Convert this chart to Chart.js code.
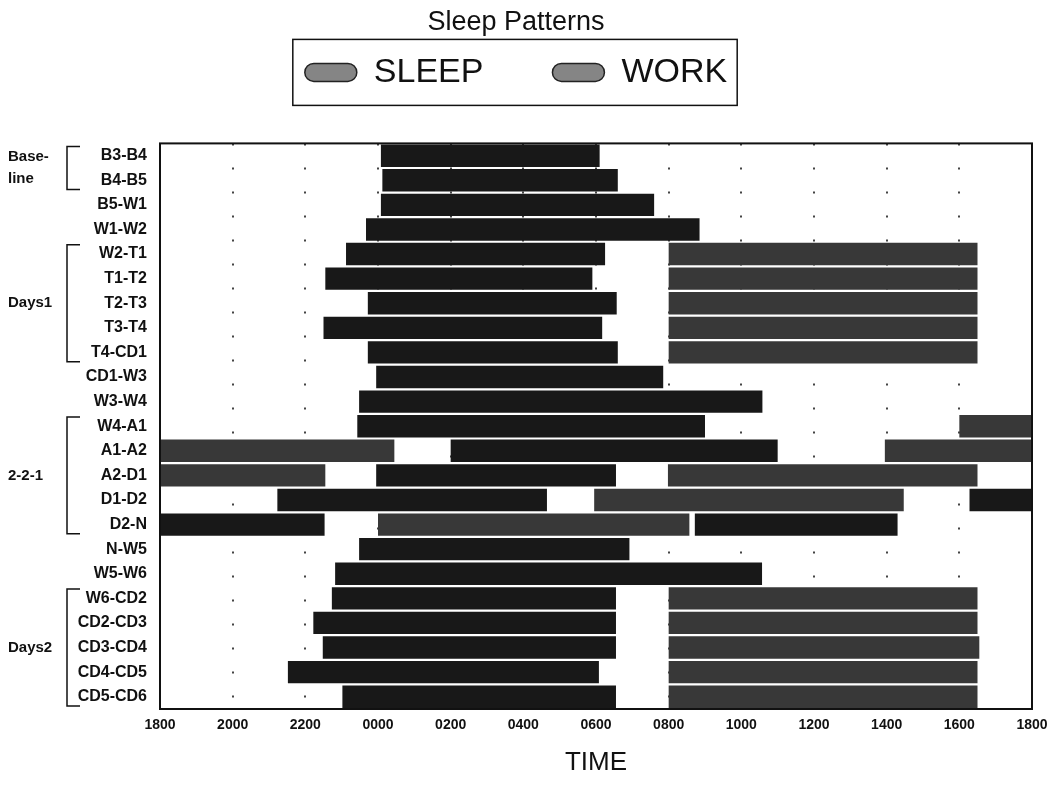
<!DOCTYPE html>
<html>
<head>
<meta charset="utf-8">
<title>Sleep Patterns</title>
<script src="https://cdn.jsdelivr.net/npm/chart.js@4.4.1/dist/chart.umd.min.js"></script>
<style>
  html, body { margin: 0; padding: 0; background: #fff; overflow: hidden; }
  #wrap { width: 1054px; height: 786px; }
</style>
</head>
<body>
<div id="wrap"><canvas id="sleep-chart"></canvas></div>
<script>
// rows, top to bottom
const rowLabels = [
  'B3-B4', 'B4-B5', 'B5-W1', 'W1-W2', 'W2-T1', 'T1-T2', 'T2-T3', 'T3-T4',
  'T4-CD1', 'CD1-W3', 'W3-W4', 'W4-A1', 'A1-A2', 'A2-D1', 'D1-D2', 'D2-N',
  'N-W5', 'W5-W6', 'W6-CD2', 'CD2-CD3', 'CD3-CD4', 'CD4-CD5', 'CD5-CD6',
];

// x runs in hours from 18 (1800) to 42 (1800 next day)
const timeTicks = ['1800', '2000', '2200', '0000', '0200', '0400', '0600',
  '0800', '1000', '1200', '1400', '1600', '1800'];

// sleep periods
const sleepRow = [
  'B3-B4', 'B4-B5', 'B5-W1', 'W1-W2', 'W2-T1', 'T1-T2', 'T2-T3', 'T3-T4',
  'T4-CD1', 'CD1-W3', 'W3-W4', 'W4-A1', 'A1-A2', 'A2-D1', 'D1-D2', 'D1-D2',
  'D2-N', 'D2-N', 'N-W5', 'W5-W6', 'W6-CD2', 'CD2-CD3', 'CD3-CD4', 'CD4-CD5',
  'CD5-CD6',
];
const sleepStart = [
  24.08, 24.12, 24.08, 23.67, 23.12, 22.55, 23.72, 22.5,
  23.72, 23.95, 23.48, 23.43, 26.0, 23.95, 21.23, 40.28,
  18.0, 32.72, 23.48, 22.82, 22.73, 22.22, 22.48, 21.52,
  23.02,
];
const sleepEnd = [
  30.1, 30.6, 31.6, 32.85, 30.25, 29.9, 30.57, 30.17,
  30.6, 31.85, 34.58, 33.0, 35.0, 30.55, 28.65, 42.0,
  22.53, 38.3, 30.92, 34.57, 30.55, 30.55, 30.55, 30.08,
  30.55,
];

// work periods
const workRow = [
  'W2-T1', 'T1-T2', 'T2-T3', 'T3-T4', 'T4-CD1', 'W4-A1', 'A1-A2', 'A1-A2',
  'A2-D1', 'A2-D1', 'D1-D2', 'D2-N', 'W6-CD2', 'CD2-CD3', 'CD3-CD4', 'CD4-CD5',
  'CD5-CD6',
];
const workStart = [
  32.0, 32.0, 32.0, 32.0, 32.0, 40.0, 18.0, 37.95,
  18.0, 31.98, 29.95, 24.0, 32.0, 32.0, 32.0, 32.0,
  32.0,
];
const workEnd = [
  40.5, 40.5, 40.5, 40.5, 40.5, 42.0, 24.45, 42.0,
  22.55, 40.5, 38.47, 32.57, 40.5, 40.5, 40.55, 40.5,
  40.5,
];

// row groups on the far left
const groupNames = [['Base-', 'line'], ['Days1'], ['2-2-1'], ['Days2']];
const groupFirst = ['B3-B4', 'W2-T1', 'W4-A1', 'W6-CD2'];
const groupLast = ['B4-B5', 'T4-CD1', 'D2-N', 'CD5-CD6'];

const FONT = "'Liberation Sans', Arial, Helvetica, sans-serif";

// frame, group brackets and the box round the legend
const extras = {
  id: 'extras',
  afterDraw(chart) {
    const { ctx, chartArea: a } = chart;
    const y = chart.scales.y;
    ctx.save();
    ctx.strokeStyle = '#111';
    ctx.lineWidth = 2;
    ctx.strokeRect(a.left, a.top, a.right - a.left, a.bottom - a.top);

    const half = (y.getPixelForValue(1) - y.getPixelForValue(0)) / 2;
    ctx.lineWidth = 1.5;
    ctx.fillStyle = '#111';
    ctx.font = 'bold 15px ' + FONT;
    ctx.textBaseline = 'middle';
    ctx.textAlign = 'left';
    groupNames.forEach((names, i) => {
      const top = y.getPixelForValue(rowLabels.indexOf(groupFirst[i])) - half + 3;
      const bottom = y.getPixelForValue(rowLabels.indexOf(groupLast[i])) + half - 3;
      ctx.beginPath();
      ctx.moveTo(80, top);
      ctx.lineTo(67, top);
      ctx.lineTo(67, bottom);
      ctx.lineTo(80, bottom);
      ctx.stroke();
      const mid = (top + bottom) / 2;
      names.forEach((n, j) => {
        ctx.fillText(n, 8, mid + (j - (names.length - 1) / 2) * 22);
      });
    });

    const hb = chart.legend.legendHitBoxes;
    if (hb && hb.length) {
      const first = hb[0];
      const last = hb[hb.length - 1];
      const cy = first.top + first.height / 2;
      const left = first.left - 12;
      const right = last.left + last.width + 10;
      ctx.lineWidth = 1.5;
      ctx.strokeRect(left, cy - 33, right - left, 66);
    }
    ctx.restore();
  },
};

new Chart(document.getElementById('sleep-chart'), {
  type: 'bar',
  data: {
    labels: rowLabels,
    datasets: [
      {
        label: 'SLEEP',
        data: sleepRow.map((r, i) => ({ y: r, x: [sleepStart[i], sleepEnd[i]] })),
        backgroundColor: '#181818',
        borderWidth: 0,
        grouped: false,
        barPercentage: 0.91,
        categoryPercentage: 1,
      },
      {
        label: 'WORK',
        data: workRow.map((r, i) => ({ y: r, x: [workStart[i], workEnd[i]] })),
        backgroundColor: '#383838',
        borderWidth: 0,
        grouped: false,
        barPercentage: 0.91,
        categoryPercentage: 1,
      },
    ],
  },
  options: {
    indexAxis: 'y',
    responsive: true,
    maintainAspectRatio: false,
    animation: false,
    layout: { padding: { left: 0, right: 22, top: 0, bottom: 7 } },
    scales: {
      x: {
        type: 'linear',
        min: 18,
        max: 42,
        afterFit: (scale) => { scale.paddingRight = 0; },
        ticks: {
          stepSize: 2,
          autoSkip: false,
          maxRotation: 0,
          padding: 8,
          color: '#111',
          font: { family: FONT, size: 14, weight: 'bold' },
          callback: (v) => timeTicks[(v - 18) / 2],
        },
        grid: { color: '#444', lineWidth: 2, drawTicks: false },
        border: { display: false, dash: [2, 22] },
        title: {
          display: true,
          text: 'TIME',
          color: '#111',
          font: { family: FONT, size: 26 },
          padding: { top: 5, bottom: 1 },
        },
      },
      y: {
        type: 'category',
        afterFit: (scale) => { scale.width = 160; },
        ticks: {
          padding: 5,
          color: '#111',
          font: { family: FONT, size: 16, weight: 'bold' },
        },
        grid: { display: false },
        border: { display: false },
      },
    },
    plugins: {
      title: {
        display: true,
        text: 'Sleep Patterns',
        color: '#111',
        font: { family: FONT, size: 27, weight: 'normal' },
        padding: { top: 6, bottom: 17 },
      },
      // empty line used as the gap between legend and plot
      subtitle: {
        display: true,
        text: ' ',
        weight: 500,
        font: { size: 10 },
        padding: { top: 32, bottom: 0 },
      },
      legend: {
        position: 'top',
        labels: {
          color: '#111',
          font: { family: FONT, size: 34 },
          boxWidth: 52,
          boxHeight: 18,
          padding: 0,
          useBorderRadius: true,
          borderRadius: 9,
          generateLabels(chart) {
            const items = Chart.defaults.plugins.legend.labels.generateLabels(chart);
            items.forEach((it) => {
              it.fillStyle = '#858585';
              it.strokeStyle = '#222';
              it.lineWidth = 1.5;
              it.borderRadius = 9;
            });
            // blank spacer between the two entries
            items.splice(1, 0, {
              text: '',
              fillStyle: 'rgba(0,0,0,0)',
              strokeStyle: 'rgba(0,0,0,0)',
              lineWidth: 0,
              hidden: false,
              borderRadius: 0,
              datasetIndex: -1,
            });
            return items;
          },
        },
      },
      tooltip: { enabled: false },
    },
  },
  plugins: [extras],
});
</script>
</body>
</html>
